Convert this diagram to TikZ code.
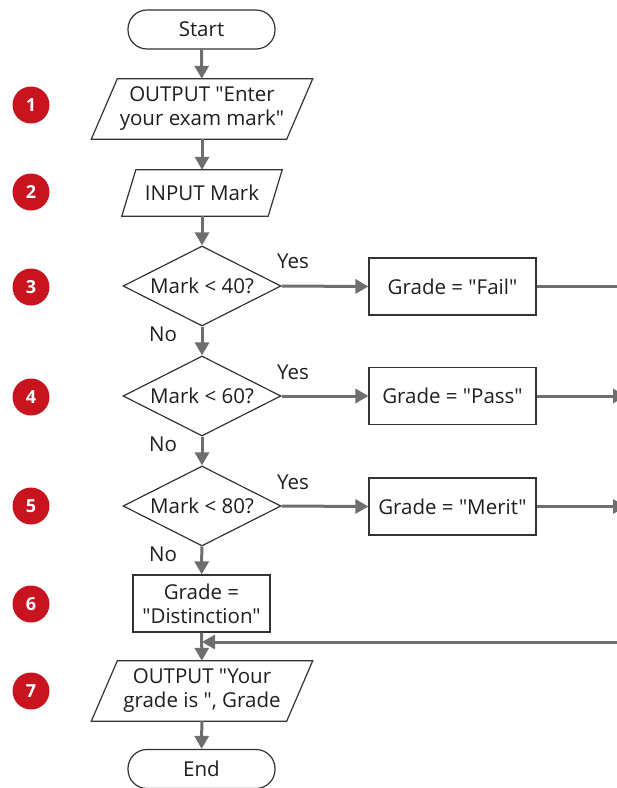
\documentclass[tikz,border=0pt]{standalone}
\usepackage{fontspec}
\setmainfont{Open Sans}[Ligatures=TeXOff]
\usetikzlibrary{arrows.meta,calc,shapes.geometric}
\definecolor{linegray}{HTML}{6E6E6E}
\definecolor{edgegray}{HTML}{333333}
\definecolor{badgered}{HTML}{C8141E}
\definecolor{txtcol}{HTML}{1E1E1E}
\newcommand\drawpara[2]{\draw[edgegray,line width=1.2pt] ($(#1.north west)+(#2/2,0)$) -- ($(#1.north east)+(#2/2,0)$) -- ($(#1.south east)-(#2/2,0)$) -- ($(#1.south west)-(#2/2,0)$) -- cycle;}
\begin{document}
\begin{tikzpicture}[x=1pt,y=-1pt,
  txt/.style={font=\fontsize{20.5}{24}\selectfont, text=txtcol, align=center},
  term/.style={txt, draw=edgegray, line width=1.2pt, rounded corners=19pt, minimum width=147pt, minimum height=39pt, inner sep=0pt},
  box/.style={txt, draw=edgegray, line width=1.2pt, minimum height=57pt, inner sep=0pt},
  dia/.style={txt, shape=diamond, draw=edgegray, line width=1.2pt, minimum width=158pt, minimum height=80pt, inner sep=0pt, aspect=2},
  para/.style={txt, minimum height=60pt, inner sep=0pt},
  lbl/.style={txt},
  badge/.style={circle, fill=badgered, minimum size=37pt, inner sep=0pt, text=white, font=\fontsize{18}{20}\selectfont\bfseries},
  arr/.style={draw=linegray, line width=3pt, -{Triangle[width=14pt,length=13pt]}},
  ln/.style={draw=linegray, line width=3pt}
]
\useasboundingbox (0,0) rectangle (617,788);
\clip (0,0) rectangle (617,788);

% nodes
\node[term] (start) at (201.5,29.5) {Start};
\node[para, minimum width=195pt] (o1) at (202,109) {OUTPUT "Enter\\your exam mark"};
\node[para, minimum width=146pt, minimum height=46pt] (in2) at (202,193) {INPUT Mark};
\node[dia] (d1) at (202,286) {Mark < 40?};
\node[dia] (d2) at (202,396) {Mark < 60?};
\node[dia] (d3) at (202,506) {Mark < 80?};
\node[box, minimum width=167pt] (fail) at (452.5,286.5) {Grade = "Fail"};
\node[box, minimum width=167pt] (pass) at (452.5,396) {Grade = "Pass"};
\node[box, minimum width=167pt] (merit) at (452.5,506.5) {Grade = "Merit"};
\node[box, minimum width=137pt] (dist) at (201.5,603.5) {Grade =\\"Distinction"};
\node[para, minimum width=195pt] (o7) at (202,691) {OUTPUT "Your\\grade is ", Grade};
\node[term] (end) at (201.5,769) {End};

\drawpara{o1}{26}
\drawpara{in2}{14}
\drawpara{o7}{26}

% badges
\node[badge] (b1) at (31,105) {1};
\node[badge] (b2) at (31,192) {2};
\node[badge] (b3) at (31,287) {3};
\node[badge] (b4) at (31,397) {4};
\node[badge] (b5) at (31,506) {5};
\node[badge] (b6) at (31,604) {6};
\node[badge] (b7) at (31,691) {7};

% labels
\node[lbl] (y1) at (293,261) {Yes};
\node[lbl] (y2) at (293,372) {Yes};
\node[lbl] (y3) at (293,482) {Yes};
\node[lbl] (n1) at (163,334) {No};
\node[lbl] (n2) at (163,444) {No};
\node[lbl] (n3) at (163,554) {No};

% coordinates at right edge
\coordinate (r1) at (640,286.5);
\coordinate (r2) at (626,396);
\coordinate (r3) at (626,506.5);
\coordinate (r4) at (640,642);
\coordinate (j) at (202,642);

% connectors
\draw[arr] (start) -- (o1);
\draw[arr] (o1) -- (in2);
\draw[arr] (in2) -- (d1);
\draw[arr] (d1) -- (d2);
\draw[arr] (d2) -- (d3);
\draw[arr] (d3) -- (dist);
\draw[arr] (dist) -- (o7);
\draw[arr] (o7) -- (end);
\draw[arr] (d1.east) -- (fail.west);
\draw[arr] (d2.east) -- (pass.west);
\draw[arr] (d3.east) -- (merit.west);
\draw[ln] (fail.east) -- (r1);
\draw[arr] (pass.east) -- (r2);
\draw[arr] (merit.east) -- (r3);
\draw[arr] (r4) -- (j);
\end{tikzpicture}
\end{document}
